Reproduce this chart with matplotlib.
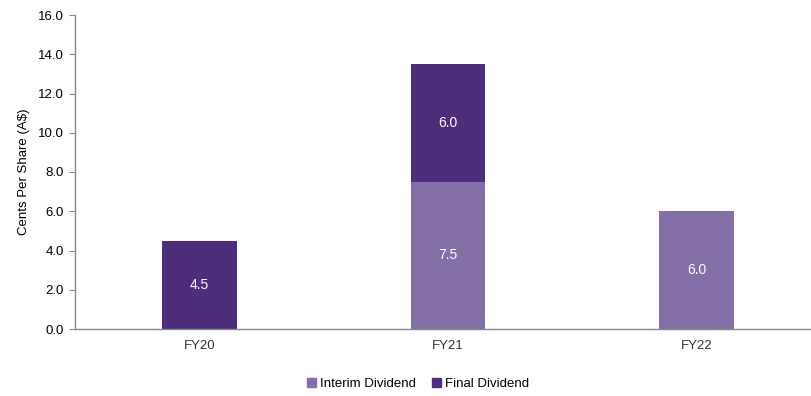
import matplotlib
matplotlib.use("Agg")
import matplotlib.pyplot as plt
from matplotlib.patches import Patch

categories = ["FY20", "FY21", "FY22"]
interim = [0.0, 7.5, 6.0]
final = [4.5, 6.0, 0.0]
yticks = [0, 2, 4, 6, 8, 10, 12, 14, 16]

c_interim = "#8470A6"
c_final = "#4E2D7A"

plt.rcParams['font.family'] = ['Liberation Sans', 'DejaVu Sans']

fig = plt.figure(figsize=(8.11, 3.96), dpi=100)
ax = fig.add_axes([75/811, 1-329/396, 1-75/811, (329-15)/396])

x = list(range(len(categories)))
w = 0.30
ax.bar(x, interim, width=w, color=c_interim, edgecolor="none")
ax.bar(x, final, width=w, bottom=interim, color=c_final, edgecolor="none")

for i in x:
    if interim[i] > 0:
        ax.text(i, interim[i]/2, f"{interim[i]:.1f}", ha="center", va="center",
                color="white", fontsize=10)
    if final[i] > 0:
        ax.text(i, interim[i] + final[i]/2, f"{final[i]:.1f}", ha="center", va="center",
                color="white", fontsize=10)

ax.set_xlim(-0.5, 2.46)
ax.set_ylim(0, 16)
ax.set_yticks(yticks)
ax.set_yticklabels([f"{v:.1f}" for v in yticks], fontsize=9.5)
ax.set_xticks(x)
ax.set_xticklabels(categories, fontsize=9.5, color="#333333")
ax.tick_params(axis="x", length=0, pad=8)
ax.tick_params(axis="y", length=4, color="#888888", pad=4)
for s in ["top", "right"]:
    ax.spines[s].set_visible(False)
for s in ["left", "bottom"]:
    ax.spines[s].set_color("#888888")
    ax.spines[s].set_linewidth(1)
ax.set_ylabel("Cents Per Share (A$)", fontsize=9.5, labelpad=6)

handles = [Patch(color=c_interim, label="Interim Dividend"),
           Patch(color=c_final, label="Final Dividend")]
fig.legend(handles=handles, loc="center", bbox_to_anchor=(418/811, 1-384/396), ncol=2,
           frameon=False, fontsize=9.5, handlelength=0.7, handleheight=0.7,
           handletextpad=0.3, columnspacing=1.2)

fig.savefig("out.png", dpi=100)
